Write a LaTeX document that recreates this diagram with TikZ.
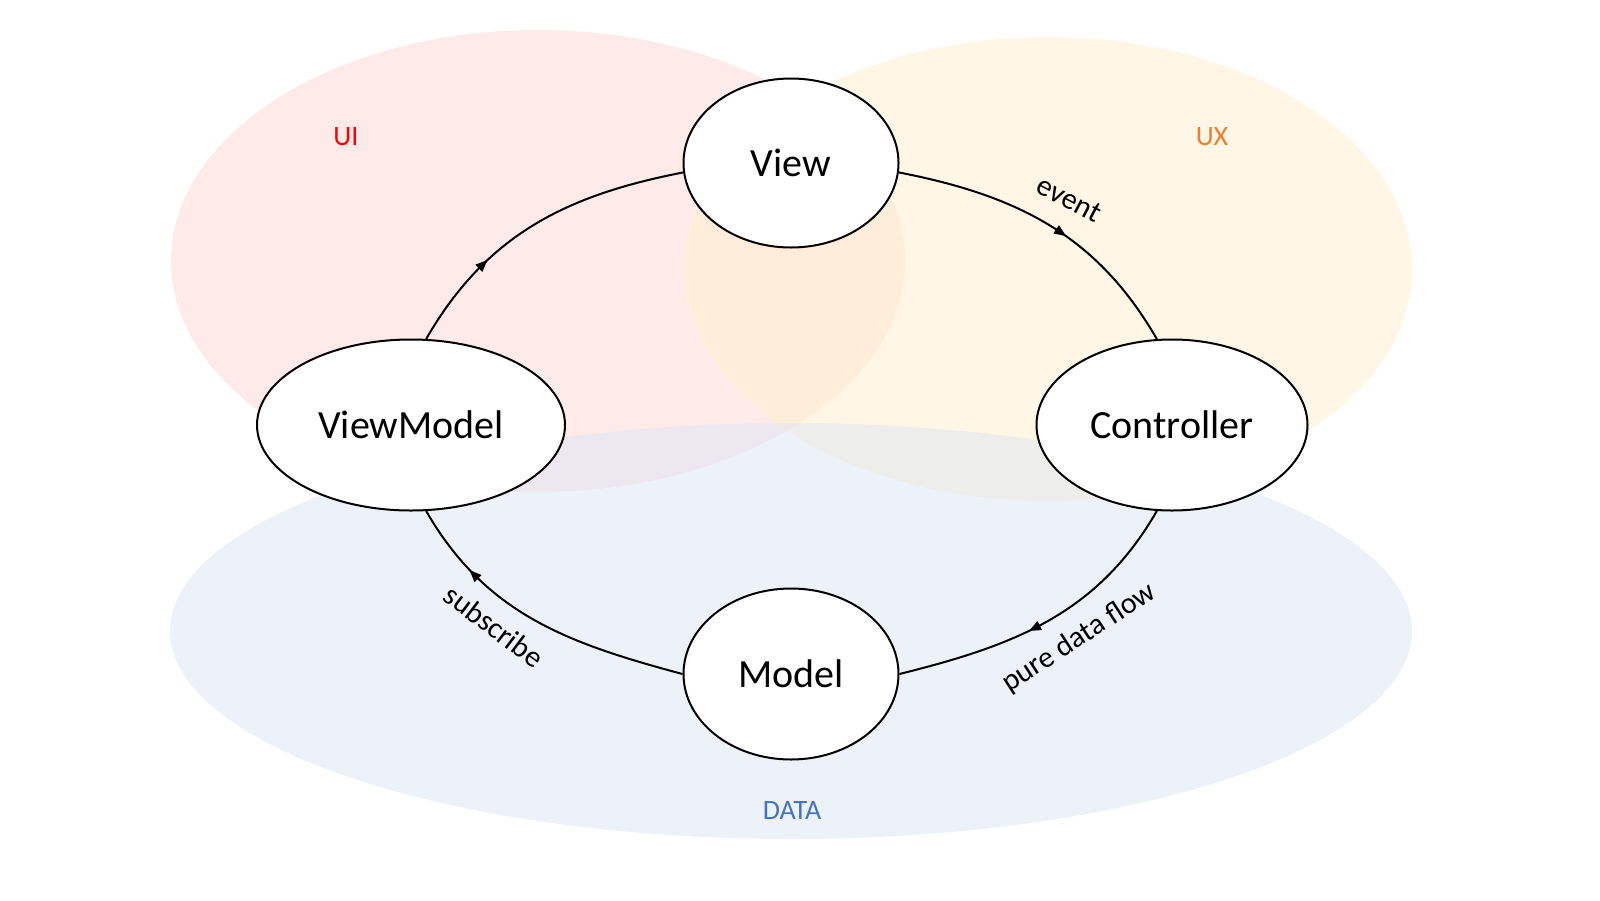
\documentclass[tikz,border=0pt]{standalone}
\usepackage{fontspec}
\setmainfont{Carlito}
\usepackage{tikz}
\usetikzlibrary{shapes.geometric,arrows.meta,decorations.markings,backgrounds}
\definecolor{uifill}{RGB}{255,214,214}
\definecolor{uxfill}{RGB}{255,238,204}
\definecolor{datafill}{RGB}{219,229,244}
\definecolor{uitext}{RGB}{255,0,0}
\definecolor{uxtext}{RGB}{237,125,49}
\definecolor{datatext}{RGB}{68,114,196}
\newcommand{\thick}{2pt}
\newcommand{\tip}{\fill (-7pt,5pt) -- (5pt,0pt) -- (-7pt,-5pt) -- cycle;}
\tikzset{
  ring/.style={draw, ellipse, line width=\thick, fill=white, inner sep=0pt,
    font=\fontsize{40}{48}\selectfont},
  area/.style={fill=#1, fill opacity=0.5},
  arealabel/.style={font=\fontsize{28}{34}\selectfont, text=#1},
  flowlabel/.style={font=\fontsize{30}{36}\selectfont},
  flow/.style={line width=\thick, postaction={decorate},
    decoration={markings, mark=at position #1 with {\tip}}}
}

\begin{document}
\begin{tikzpicture}[x=1pt,y=1pt]
\useasboundingbox (0,0) rectangle (1600,-900);
%areas
\begin{scope}[on background layer]
\fill[area=uifill] (538,-261) ellipse [x radius=367, y radius=231];
\fill[area=uxfill] (1048,-269) ellipse [x radius=364, y radius=232];
\fill[area=datafill] (791,-631) ellipse [x radius=621, y radius=208];
\end{scope}
\node[arealabel=uitext] (ui) at (346,-137) {UI};
\node[arealabel=uxtext] (ux) at (1212,-137) {UX};
\node[arealabel=datatext] (data) at (792,-811) {DATA};
%nodes
\node[ring, minimum width=215, minimum height=169] (view) at (791,-163) {View};
\node[ring, minimum width=308, minimum height=171] (viewmodel) at (411,-425) {ViewModel};
\node[ring, minimum width=271, minimum height=171] (controller) at (1172,-425) {Controller};
\node[ring, minimum width=215, minimum height=171] (model) at (791,-674) {Model};
%edges
\draw[flow=0.3] (viewmodel.80) to[out=60, in=191] (view.185);
\draw[flow=0.55] (view.355) to[out=-11, in=120] (controller.100);
\draw[flow=0.55] (controller.260) to[out=240, in=14] (model.0);
\draw[flow=0.75] (model.180) to[out=165, in=-60] (viewmodel.280);
%labels
\node[flowlabel, rotate=-28] (event) at (1069,-199) {event};
\node[flowlabel, rotate=33] (pure) at (1079,-638) {pure data flow};
\node[flowlabel, rotate=-37] (subscribe) at (494,-626) {subscribe};
\end{tikzpicture}
\end{document}
